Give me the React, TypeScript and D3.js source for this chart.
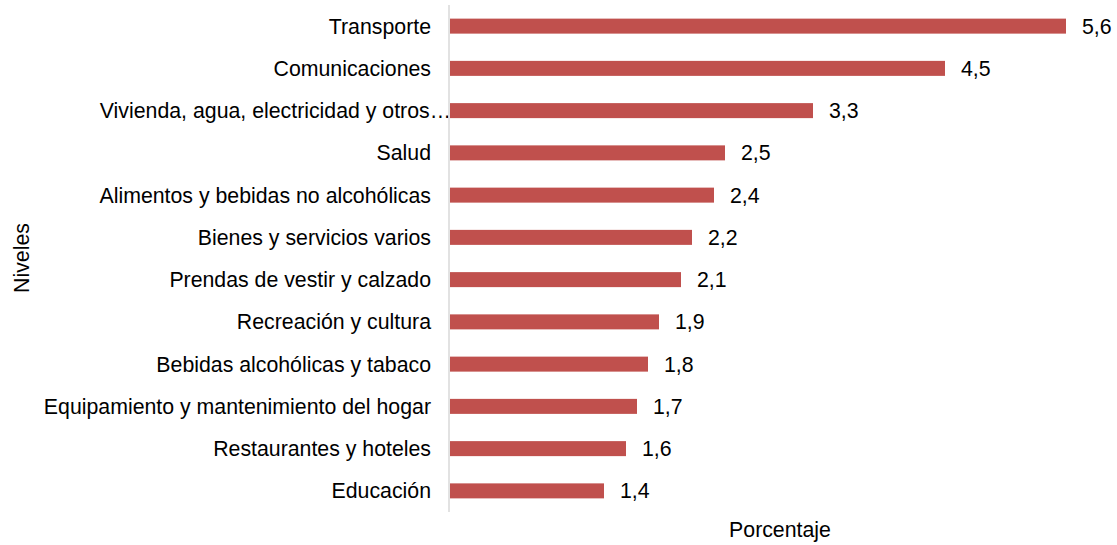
import React from "react";
import * as d3 from "d3";

const categories = [
  "Transporte",
  "Comunicaciones",
  "Vivienda, agua, electricidad y otros…",
  "Salud",
  "Alimentos y bebidas no alcohólicas",
  "Bienes y servicios varios",
  "Prendas de vestir y calzado",
  "Recreación y cultura",
  "Bebidas alcohólicas y tabaco",
  "Equipamiento y mantenimiento del hogar",
  "Restaurantes y hoteles",
  "Educación",
];
const values = [5.6, 4.5, 3.3, 2.5, 2.4, 2.2, 2.1, 1.9, 1.8, 1.7, 1.6, 1.4];
const xTitle = "Porcentaje";
const yTitle = "Niveles";

const W = 1117;
const H = 545;
const axisX = 449;
const top = 5;
const bottom = 512;
const FONT = "'Liberation Sans', Arial, Helvetica, sans-serif";
const FS = 21.3;

export default function App() {
  const x = d3.scaleLinear().domain([0, 5.6]).range([axisX + 1, 1066]);
  const y = d3.scaleBand<string>().domain(categories).range([top, bottom]).paddingInner(0.645).paddingOuter(0.3225);
  const fmt = (v: number) => v.toFixed(1).replace(".", ",");
  return (
    <svg width={W} height={H} style={{ position: "absolute", left: 0, top: 0 }} fontFamily={FONT}>
      <rect width={W} height={H} fill="#fff" />
      {categories.map((c, i) => {
        const yc = (y(c) as number) + y.bandwidth() / 2;
        const truncated = c.endsWith("…");
        return (
          <g key={c}>
            <rect x={x(0)} y={y(c)} width={x(values[i]) - x(0)} height={y.bandwidth()} fill="#c0504d" />
            <text x={truncated ? axisX + 2 : axisX - 18} y={yc} dy="0.35em" textAnchor="end" fontSize={FS} fill="#000">
              {c}
            </text>
            <text x={x(values[i]) + 16} y={yc} dy="0.35em" textAnchor="start" fontSize={FS} fill="#000">
              {fmt(values[i])}
            </text>
          </g>
        );
      })}
      <line x1={axisX} x2={axisX} y1={top} y2={bottom} stroke="#d9d9d9" strokeWidth={1.5} />
      <text x={780} y={537} textAnchor="middle" fontSize={FS} fill="#000">
        {xTitle}
      </text>
      <text transform={`translate(29,258) rotate(-90)`} textAnchor="middle" fontSize={FS} fill="#000">
        {yTitle}
      </text>
    </svg>
  );
}
